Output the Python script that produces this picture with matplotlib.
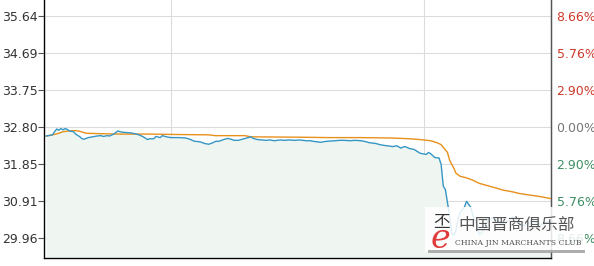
import matplotlib.pyplot as plt
from matplotlib.patches import Rectangle

# ---- data ----
prev_close = 32.80
left_ticks = [29.96, 30.91, 31.85, 32.80, 33.75, 34.69, 35.64]
right_labels = ['8.66%', '5.76%', '2.90%', '0.00%', '2.90%', '5.76%', '8.66%']
right_colors = ['#3f8f63', '#3f8f63', '#3f8f63', '#777777', '#cc3a2b', '#cc3a2b', '#cc3a2b']

price_min = [1, 3, 4, 5, 6, 7, 8, 9, 10, 11, 12, 14, 15, 17, 18, 19, 21, 23, 25, 27,
             28, 30, 31, 33, 35, 36, 37, 39, 41, 43, 45, 47, 49, 50, 52, 53, 55, 56, 58, 60,
             62, 64, 67, 69, 71, 74, 76, 78, 80, 81, 83, 85, 87, 89, 90, 92, 94, 96, 98, 99,
             101, 103, 105, 107, 109, 112, 114, 116, 119, 121, 124, 126, 128, 131, 133, 135,
             138, 140, 142, 145, 147, 150, 152, 154, 157, 159, 161, 164, 165, 167, 169, 170,
             171, 173, 175, 176, 178, 179, 181, 182, 183, 185, 187, 188, 189, 190, 192, 193,
             194, 195, 196, 197, 199, 200, 202, 203, 205, 206, 207, 209, 210, 212, 214, 216,
             218, 220, 222, 223, 225, 227, 229, 231, 233, 235, 237, 239, 240]
price = [32.57, 32.59, 32.60, 32.68, 32.75, 32.72, 32.76, 32.73, 32.76, 32.74, 32.70, 32.68,
         32.62, 32.55, 32.50, 32.49, 32.53, 32.55, 32.57, 32.58, 32.56, 32.58, 32.57, 32.62,
         32.70, 32.68, 32.67, 32.66, 32.65, 32.63, 32.60, 32.55, 32.48, 32.50, 32.50, 32.56,
         32.53, 32.58, 32.55, 32.53, 32.53, 32.53, 32.52, 32.49, 32.44, 32.42, 32.38, 32.36,
         32.40, 32.43, 32.44, 32.48, 32.51, 32.48, 32.46, 32.46, 32.49, 32.52, 32.55, 32.51,
         32.48, 32.47, 32.46, 32.47, 32.45, 32.47, 32.46, 32.47, 32.46, 32.47, 32.45, 32.45,
         32.43, 32.41, 32.43, 32.44, 32.45, 32.46, 32.46, 32.45, 32.46, 32.45, 32.43, 32.40,
         32.38, 32.35, 32.33, 32.31, 32.30, 32.32, 32.26, 32.29, 32.30, 32.25, 32.23, 32.20,
         32.13, 32.12, 32.10, 32.15, 32.12, 32.02, 32.01, 31.84, 31.29, 31.20, 30.53, 30.08,
         30.03, 30.15, 30.45, 30.62, 30.75, 30.90, 30.75, 30.55, 30.30, 30.05, 30.08, 30.25,
         30.40, 30.48, 30.42, 30.35, 30.30, 30.42, 30.50, 30.45, 30.35, 30.28, 30.32, 30.40,
         30.36, 30.30, 30.34, 30.38, 30.36]

avg_min = [1, 4, 7, 9, 12, 15, 17, 20, 27, 36, 50, 62, 78, 81, 95, 98, 121, 135, 150, 164,
           169, 173, 178, 183, 186, 188, 189, 191, 192, 194, 195, 197, 200, 203, 206, 210,
           214, 217, 222, 225, 230, 235, 239, 240]
avg_price = [32.57, 32.60, 32.64, 32.68, 32.70, 32.71, 32.69, 32.64, 32.63, 32.62, 32.62,
             32.61, 32.60, 32.58, 32.58, 32.55, 32.54, 32.53, 32.53, 32.52, 32.51, 32.50,
             32.48, 32.45, 32.40, 32.35, 32.28, 32.15, 31.95, 31.75, 31.62, 31.54, 31.50,
             31.44, 31.36, 31.30, 31.24, 31.19, 31.14, 31.10, 31.06, 31.02, 30.98, 30.97]

# ---- figure ----
fig = plt.figure(figsize=(5.94, 2.66), dpi=100)
ax = fig.add_axes([44 / 594, 8 / 266, 507 / 594, 258 / 266])

ymin, ymax = 29.45, 36.05
ax.set_xlim(0, 240)
ax.set_ylim(ymin, ymax)

ax.fill_between(price_min, price, ymin, color='#eff6f1', lw=0, zorder=1)
ax.plot(avg_min, avg_price, color='#e8901c', lw=1.0, zorder=3)
ax.plot(price_min, price, color='#3596c4', lw=1.0, zorder=4)

# grid
for t in left_ticks:
    ax.axhline(t, color='#dcdcdc', lw=0.8, zorder=0)
for m in [60, 180]:
    ax.axvline(m, color='#dcdcdc', lw=0.8, zorder=0)

ax.set_yticks(left_ticks)
ax.set_yticklabels([f'{t:.2f}' for t in left_ticks])
ax.set_xticks([])
ax.tick_params(axis='y', length=4, width=0.8, color='#555555', labelsize=9,
               labelcolor='#333333', pad=0.5)
for side in ['left', 'bottom', 'right']:
    ax.spines[side].set_color('#555555')
    ax.spines[side].set_linewidth(1.0)
ax.spines['top'].set_visible(False)

ax2 = ax.twinx()
ax2.set_ylim(ymin, ymax)
ax2.set_yticks(left_ticks)
ax2.set_yticklabels(right_labels)
ax2.tick_params(axis='y', length=0, labelsize=9, pad=4)
for lbl, c in zip(ax2.get_yticklabels(), right_colors):
    lbl.set_color(c)
ax2.spines['top'].set_visible(False)
ax2.spines['right'].set_color('#555555')

# watermark
fig.patches.append(Rectangle((425 / 594, 14 / 266), 160 / 594, 45 / 266,
                             transform=fig.transFigure, facecolor='white',
                             alpha=0.85, edgecolor='none', zorder=10))
fig.patches.append(Rectangle((428 / 594, 13 / 266), 157 / 594, 3 / 266,
                             transform=fig.transFigure, facecolor='#9a9a9a',
                             alpha=0.8, edgecolor='none', zorder=10))
fig.text(440 / 594, 27 / 266, 'e', color='#e03a3a', fontsize=24, style='italic',
         family='DejaVu Serif', ha='center', va='center', zorder=11)
fig.text(442 / 594, 43 / 266, '丕', color='#333333', fontsize=12,
         family=['Noto Sans CJK SC', 'DejaVu Sans'], ha='center', va='center', zorder=11)
fig.text(517 / 594, 41 / 266, '中国晋商俱乐部', color='#555555', fontsize=12,
         family=['Noto Sans CJK SC', 'DejaVu Sans'], ha='center', va='center', zorder=11)
fig.text(518 / 594, 23 / 266, 'CHINA JIN MARCHANTS CLUB', color='#555555', fontsize=5.6,
         family='DejaVu Serif', ha='center', va='center', zorder=11)

fig.savefig('out.png', dpi=100)
